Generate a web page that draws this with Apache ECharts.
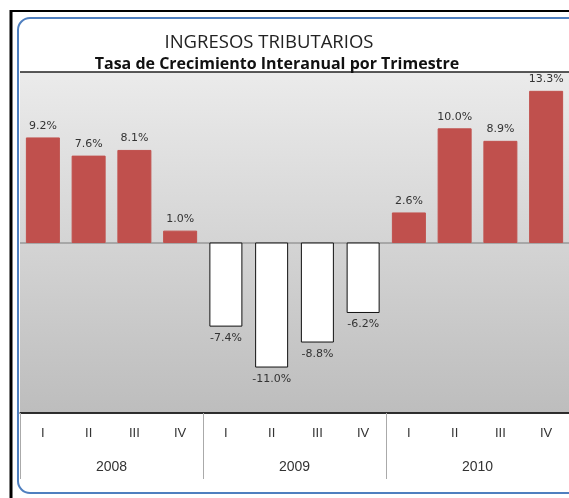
<!DOCTYPE html>
<html>
<head>
<meta charset="utf-8">
<script src="https://cdn.jsdelivr.net/npm/echarts@6/dist/echarts.min.js"></script>
<style>
html, body { margin: 0; padding: 0; background: #fff; }
#myChart { width: 569px; height: 498px; }
</style>
</head>
<body>
<div id="myChart"></div>
<script>
// datos
let quarters = ['I', 'II', 'III', 'IV', 'I', 'II', 'III', 'IV', 'I', 'II', 'III', 'IV']
let years = ['2008', '2009', '2010']
let growth = [9.2, 7.6, 8.1, 1.0, -7.4, -11.0, -8.8, -6.2, 2.6, 10.0, 8.9, 13.3]

let myChart = echarts.init(document.getElementById('myChart'))

let option = {
    backgroundColor: '#fff',
    animation: false,
    title: [
        {
            text: 'INGRESOS TRIBUTARIOS',
            left: 264,
            top: 28,
            textAlign: 'center',
            textStyle: { fontFamily: 'Open Sans', fontSize: 18.5, fontWeight: 'normal', color: '#222' }
        },
        {
            text: 'Tasa de Crecimiento Interanual por Trimestre',
            left: 272,
            top: 51,
            textAlign: 'center',
            textStyle: { fontFamily: 'Open Sans', fontSize: 16, fontWeight: 'bold', color: '#111' }
        }
    ],
    graphic: [
        // marco exterior
        { type: 'line', shape: { x1: 10, y1: 11, x2: 569, y2: 11 }, style: { stroke: '#000', lineWidth: 2 } },
        { type: 'line', shape: { x1: 11, y1: 10, x2: 11, y2: 498 }, style: { stroke: '#000', lineWidth: 3 } },
        {
            type: 'rect',
            shape: { x: 18, y: 18, width: 570, height: 475, r: 12 },
            style: { fill: 'none', stroke: '#4f7fbf', lineWidth: 2 },
            z: 10
        }
    ],
    grid: {
        left: 20,
        right: -3,
        top: 72,
        bottom: 85,
        show: true,
        borderWidth: 0,
        backgroundColor: new echarts.graphic.LinearGradient(0, 0, 0, 1, [
            { offset: 0, color: '#ebebeb' },
            { offset: 1, color: '#bdbdbd' }
        ])
    },
    xAxis: [
        {
            type: 'category',
            data: quarters,
            position: 'bottom',
            axisLine: { onZero: false, lineStyle: { color: '#222', width: 1.5 } },
            axisTick: { show: false },
            axisLabel: { color: '#333', fontFamily: 'Liberation Sans', fontSize: 13, margin: 14 }
        },
        {
            type: 'category',
            data: years,
            position: 'bottom',
            axisLine: { show: false, onZero: false },
            axisTick: { show: true, length: 66, lineStyle: { color: '#aaa' } },
            axisLabel: { color: '#333', fontFamily: 'Liberation Sans', fontSize: 14, margin: 47 }
        }
    ],
    yAxis: {
        type: 'value',
        min: -15,
        max: 15,
        interval: 15,
        axisLabel: { show: false },
        axisLine: { show: false },
        axisTick: { show: false },
        splitLine: { lineStyle: { color: ['#222', '#999', '#222'], width: 1.5 } }
    },
    series: [
        {
            name: 'Tasa',
            type: 'bar',
            xAxisIndex: 0,
            barWidth: 33,
            // barras positivas rojas, negativas blancas con borde
            data: growth.map(function (v) {
                return {
                    value: v,
                    itemStyle: v >= 0 ? { color: '#c0504d', borderColor: '#c0504d' } : { color: '#fff', borderColor: '#111', borderWidth: 1 },
                    label: { position: v >= 0 ? 'top' : 'bottom' }
                }
            }),
            label: {
                show: true,
                distance: 6,
                fontFamily: 'DejaVu Sans',
                fontSize: 11,
                color: '#333',
                formatter: function (p) { return p.value.toFixed(1) + '%' }
            }
        }
    ]
}

myChart.setOption(option)

window.addEventListener('resize', () => {
    myChart.resize()
})
</script>
</body>
</html>
